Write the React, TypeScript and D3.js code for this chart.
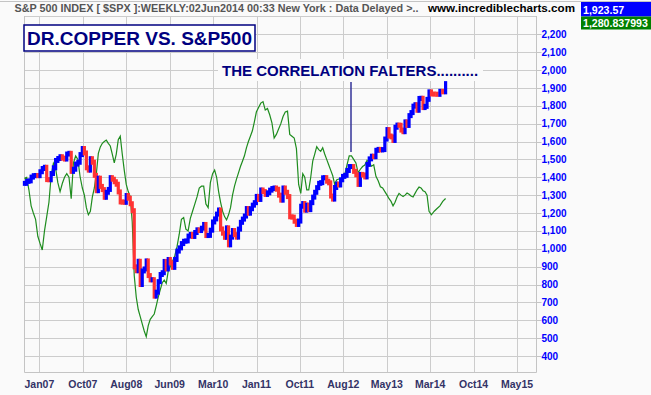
import React, { useEffect, useRef } from "react";
import * as d3 from "d3";

// weekly chart sampled every second Friday, first bar 13 Oct 2006
const START = new Date(2006, 9, 13);
const STEP_DAYS = 14;

// S&P 500 closes
const spxClose = [
  1366, 1377, 1380, 1401, 1409, 1410,
  1409, 1431, 1449, 1456, 1387, 1386, 1421, 1453, 1494, 1505, 1515, 1507, 1502,
  1530, 1534, 1433, 1445, 1474, 1484, 1527, 1561, 1536, 1453, 1440, 1504, 1484,
  1411, 1325, 1395, 1349, 1331, 1288, 1316, 1332, 1398, 1389, 1375, 1361, 1318,
  1262, 1261, 1260, 1298, 1283, 1252, 1213, 899, 877, 930, 800, 876, 887,
  932, 850, 826, 827, 735, 757, 816, 856, 866, 929, 887, 940, 921,
  896, 940, 987, 1005, 1029, 1042, 1044, 1071, 1080, 1069, 1091, 1106, 1102,
  1115, 1136, 1074, 1075, 1104, 1150, 1167, 1194, 1217, 1111, 1087, 1064, 1117,
  1022, 1065, 1102, 1079, 1065, 1110, 1148, 1166, 1183, 1225, 1199, 1224, 1244, 1258,
  1293, 1276, 1329, 1320, 1304, 1313, 1328, 1337, 1340, 1333, 1300, 1272, 1340,
  1316, 1292, 1179, 1177, 1154, 1136, 1155, 1238, 1253, 1216, 1244, 1219, 1258,
  1289, 1316, 1342, 1366, 1370, 1397, 1398, 1378, 1369, 1295, 1278, 1343, 1362,
  1357, 1386, 1405, 1411, 1438, 1460, 1460, 1433, 1414, 1360, 1416, 1413, 1402,
  1472, 1503, 1518, 1515, 1551, 1556, 1553, 1555, 1614, 1667, 1631, 1626, 1606,
  1680, 1692, 1691, 1664, 1655, 1710, 1690, 1745, 1762, 1798, 1806, 1775, 1841,
  1842, 1790, 1797, 1836, 1878, 1866, 1865, 1864, 1881, 1878, 1924,
];

// copper, already rescaled onto the S&P axis
const copperScaled = [
  1394, 1400, 1330, 1240, 1200, 1165, 1070, 1030, 993, 1100,
  1180, 1260, 1410, 1478, 1450, 1370, 1320, 1365, 1400, 1420,
  1400, 1280, 1480, 1520, 1500, 1403, 1340, 1300, 1230, 1190,
  1210, 1290, 1340, 1420, 1534, 1570, 1590, 1600, 1608, 1590,
  1575, 1530, 1480, 1530, 1610, 1630, 1530, 1440, 1360, 1320,
  1291, 1150, 850, 730, 660, 620, 580, 540, 508, 570,
  605, 620, 635, 680, 730, 770, 810, 825, 806, 875,
  900, 930, 960, 1010, 1080, 1165, 1175, 1110, 1100, 1170,
  1210, 1250, 1290, 1340, 1350, 1350, 1250, 1230, 1370, 1420,
  1440, 1400, 1320, 1260, 1210, 1180, 1161, 1190, 1230, 1300,
  1350, 1390, 1425, 1460, 1490, 1520, 1565, 1600, 1630, 1660,
  1710, 1765, 1790, 1815, 1823, 1776, 1785, 1750, 1705, 1620,
  1640, 1670, 1700, 1740, 1765, 1770, 1640, 1630, 1620, 1560,
  1360, 1310, 1420, 1400, 1330, 1330, 1400, 1490, 1530, 1571,
  1555, 1545, 1565, 1530, 1500, 1470, 1440, 1410, 1360, 1385,
  1390, 1390, 1400, 1415, 1470, 1520, 1520, 1500, 1480, 1425,
  1445, 1460, 1468, 1495, 1480, 1462, 1470, 1405, 1380, 1347,
  1340, 1320, 1300, 1280, 1265, 1240, 1260, 1290, 1310, 1300,
  1292, 1300, 1312, 1305, 1295, 1290, 1310, 1330, 1345, 1340,
  1325, 1319, 1300, 1210, 1190, 1210, 1225, 1240, 1265, 1281,
];

const tickDates = [
  "2007-01-15", "2007-10-15", "2008-08-15", "2009-06-15", "2010-03-15", "2011-01-15",
  "2011-10-15", "2012-08-15", "2013-05-15", "2014-03-15", "2014-10-15", "2015-05-15",
];
const yTicks = [
  400, 500, 600, 700, 800, 900, 1000, 1100, 1200, 1300, 1400, 1500, 1600, 1700,
  1800, 1900, 2000, 2100, 2200,
];
const lastValues = ["1,923.57", "1,280.837993"];

const W = 651;
const H = 395;
const FONT = "'Liberation Sans', Arial, sans-serif";

export default function App() {
  const svgRef = useRef(null);

  useEffect(() => {
    const svg = d3.select(svgRef.current);
    svg.selectAll("*").remove();

    const left = 24;
    const right = 536.5;
    const top = 16;
    const bottom = 372.5;

    const parse = d3.timeParse("%Y-%m-%d");
    const ticks = tickDates.map((d) => parse(d));
    const x = d3
      .scaleTime()
      .domain(ticks)
      .range(ticks.map((_, i) => 39.4 + i * 43.42));
    const y = d3.scaleLinear().domain([400, 2200]).range([356, 34.3]);

    const dates = spxClose.map((_, i) => d3.timeDay.offset(START, i * STEP_DAYS));

    svg.append("rect").attr("width", W).attr("height", H).attr("fill", "#fafafa");

    // grid
    const grid = svg.append("g").attr("stroke", "#cccccc").attr("stroke-width", 1);
    grid
      .selectAll("line.h")
      .data([...yTicks, 2300])
      .join("line")
      .attr("x1", left)
      .attr("x2", right)
      .attr("y1", (d) => Math.round(y(d)) + 0.5)
      .attr("y2", (d) => Math.round(y(d)) + 0.5);
    grid
      .selectAll("line.v")
      .data(ticks)
      .join("line")
      .attr("x1", (d) => Math.round(x(d)) + 0.5)
      .attr("x2", (d) => Math.round(x(d)) + 0.5)
      .attr("y1", top)
      .attr("y2", bottom);

    // frame
    svg
      .append("path")
      .attr("d", `M${left + 0.5},${top}V${bottom}H${right}V${top}`)
      .attr("fill", "none")
      .attr("stroke", "#c4c4c4");

    // y axis labels
    const ya = svg.append("g");
    ya.selectAll("line")
      .data(yTicks)
      .join("line")
      .attr("x1", right)
      .attr("x2", right + 5)
      .attr("y1", (d) => Math.round(y(d)) + 0.5)
      .attr("y2", (d) => Math.round(y(d)) + 0.5)
      .attr("stroke", "#c4c4c4");
    ya.selectAll("text")
      .data(yTicks)
      .join("text")
      .attr("x", right + 5)
      .attr("y", (d) => y(d) + 3.6)
      .attr("fill", "#0000ff")
      .style("font", `bold 10px ${FONT}`)
      .text((d) => d3.format(",")(d));

    // x axis labels
    const fmt = d3.timeFormat("%b%y");
    svg
      .append("g")
      .selectAll("text")
      .data(ticks)
      .join("text")
      .attr("x", (d) => x(d))
      .attr("y", 388)
      .attr("text-anchor", "middle")
      .attr("fill", "#333366")
      .style("font", `bold 10.5px ${FONT}`)
      .text((d) => fmt(d));

    const plot = svg.append("g");

    // copper line
    const line = d3
      .line()
      .x((_, i) => x(dates[i]))
      .y((d) => y(d));
    plot
      .append("path")
      .datum(copperScaled)
      .attr("d", line)
      .attr("fill", "none")
      .attr("stroke", "#1e8c1e")
      .attr("stroke-width", 1.2);

    // S&P bars, open taken as the previous close; padded a little so the band
    // reads like weekly high/low bars
    const openOf = (i) => (i > 0 ? spxClose[i - 1] : spxClose[i]);
    plot
      .selectAll("rect.bar")
      .data(spxClose)
      .join("rect")
      .attr("x", (_, i) => x(dates[i]) - 1.6)
      .attr("width", 3.2)
      .attr("y", (d, i) => Math.min(y(openOf(i)), y(d)) - 2.5)
      .attr("height", (d, i) => Math.abs(y(openOf(i)) - y(d)) + 5)
      .attr("fill", (d, i) => (d < openOf(i) ? "#ff3333" : "#0000ff"));

    // title box
    svg
      .append("rect")
      .attr("x", 24)
      .attr("y", 25)
      .attr("width", 231)
      .attr("height", 26)
      .attr("fill", "#ffffff")
      .attr("stroke", "#000080")
      .attr("stroke-width", 1.5);
    svg
      .append("text")
      .attr("x", 139.5)
      .attr("y", 45)
      .attr("text-anchor", "middle")
      .attr("fill", "#000080")
      .style("font", `bold 19px ${FONT}`)
      .text("DR.COPPER VS. S&P500");

    // annotation
    svg
      .append("rect")
      .attr("x", 218)
      .attr("y", 59)
      .attr("width", 265)
      .attr("height", 22)
      .attr("fill", "#fafafa");
    svg
      .append("text")
      .attr("x", 222)
      .attr("y", 76)
      .attr("fill", "#000080")
      .style("font", `bold 15px ${FONT}`)
      .text("THE CORRELATION FALTERS..........");
    svg
      .append("line")
      .attr("x1", 351)
      .attr("x2", 351)
      .attr("y1", 82)
      .attr("y2", 152)
      .attr("stroke", "#333399")
      .attr("stroke-width", 1.5);

    // header
    svg
      .append("rect")
      .attr("width", W)
      .attr("height", 15)
      .attr("fill", "#fafafa");
    svg
      .append("line")
      .attr("x1", 0)
      .attr("x2", W)
      .attr("y1", 1.5)
      .attr("y2", 1.5)
      .attr("stroke", "#c4c4c4");
    svg
      .append("text")
      .attr("x", 14.5)
      .attr("y", 12)
      .attr("fill", "#555555")
      .attr("textLength", 404)
      .attr("lengthAdjust", "spacingAndGlyphs")
      .style("font", `bold 11px ${FONT}`)
      .text("S&P 500 INDEX [ $SPX ]:WEEKLY:02Jun2014 00:33 New York : Data Delayed >..");
    svg
      .append("text")
      .attr("x", 428)
      .attr("y", 12)
      .attr("fill", "#000000")
      .attr("textLength", 147)
      .attr("lengthAdjust", "spacingAndGlyphs")
      .style("font", `bold 11px ${FONT}`)
      .text("www.incrediblecharts.com");

    const boxes = [
      { fill: "#0000ff", y0: 2, h: 14.5 },
      { fill: "#008000", y0: 16.5, h: 13 },
    ];
    boxes.forEach((b, i) => {
      svg
        .append("rect")
        .attr("x", 581)
        .attr("y", b.y0)
        .attr("width", W - 581)
        .attr("height", b.h)
        .attr("fill", b.fill);
      svg
        .append("text")
        .attr("x", 583)
        .attr("y", b.y0 + b.h - 3)
        .attr("fill", "#ffffff")
        .style("font", `bold 10.6px ${FONT}`)
        .text(lastValues[i]);
    });
  }, []);

  return (
    <div>
      <style>{`body{margin:0;overflow:hidden}`}</style>
      <svg ref={svgRef} width={W} height={H} style={{ display: "block" }}></svg>
    </div>
  );
}
